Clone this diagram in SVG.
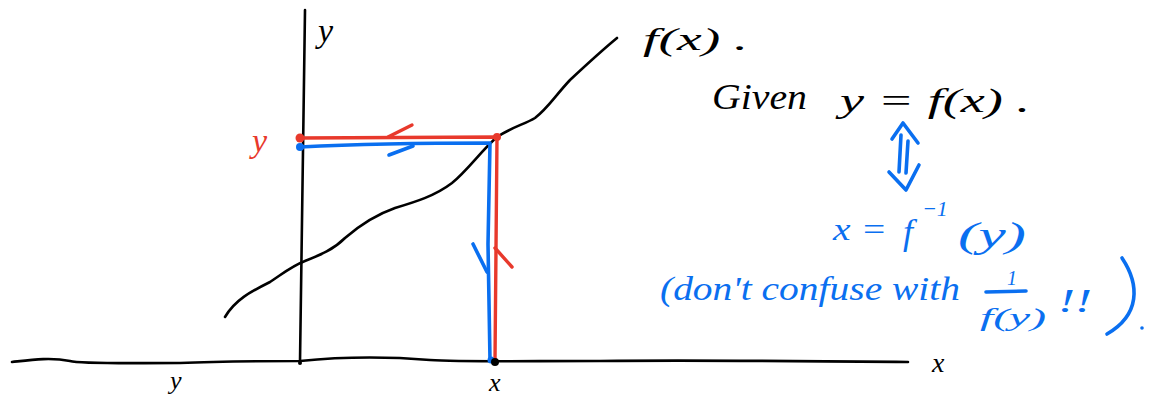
<svg xmlns="http://www.w3.org/2000/svg" width="1150" height="399" viewBox="0 0 1150 399">
<style>
.ink{fill:none;stroke-linecap:round;stroke-linejoin:round}
.k{stroke:#000;stroke-width:2.6}
.r{stroke:#e8392c;stroke-width:3.4}
.b{stroke:#0a6ff0;stroke-width:3.6}
.t{font-family:"Liberation Serif",serif;font-style:italic}
.tk{fill:#000}
.tb{fill:#0a6ff0}
.tr{fill:#e8392c}
</style>
<rect width="1150" height="399" fill="#fff"/>
<g id="axes">
<path class="ink k" d="M12,362 C30,360 50,357 70,361 C80,364 120,363 180,363 C200,362 240,361 300,361 C330,358 380,356 430,360 C460,362 520,361 600,361 C700,360 800,361 908,362"/>
<path class="ink k" d="M305,10 C303,120 301,240 300,362"/>
<circle cx="300" cy="363" r="2" fill="#000"/>
</g>
<g id="curve">
<path class="ink k" d="M225,317 C235,300 250,292 270,282 C285,272 292,266 305,261 C320,255 333,250 345,238 C360,225 375,215 395,208 C415,202 435,196 452,183 C468,170 480,152 497,137 C510,128 525,124 535,118 C548,108 555,96 570,80 C585,66 600,52 617,38"/>
</g>
<g id="red-path">
<path class="ink r" d="M300,138 L497,137 L495,360"/>
<circle cx="300" cy="138" r="4.5" fill="#e8392c"/>
<circle cx="497" cy="137" r="4" fill="#e8392c"/>
<path class="ink r" d="M388,137 L412,125"/>
<path class="ink r" d="M495,248 L512,267"/>
</g>
<g id="blue-path">
<path class="ink b" d="M300,147 C360,144 440,143 490,143 L488,244 L490,360"/>
<circle cx="300" cy="147" r="4" fill="#0a6ff0"/>
<circle cx="491" cy="360" r="3.5" fill="#0a6ff0"/>
<path class="ink b" d="M389,155 L413,146"/>
<path class="ink b" d="M473,244 L487,272"/>
</g>
<circle cx="495" cy="362" r="4" fill="#000"/>
<g id="labels">
<text class="t tk" x="318" y="42" font-size="34">y</text>
<text class="t tr" x="252" y="152" font-size="34">y</text>
<text class="t tk" x="170" y="389" font-size="26">y</text>
<text class="t tk" x="489" y="391" font-size="26">x</text>
<text class="t tk" x="932" y="372" font-size="28">x</text>
<text class="t tk" x="643" y="50" font-size="32" textLength="105" lengthAdjust="spacingAndGlyphs">f(x) .</text>
</g>
<g id="given">
<text class="t tk" x="712" y="109" font-size="36" textLength="95" lengthAdjust="spacingAndGlyphs">Given</text>
<text class="t tk" x="840" y="112" font-size="34" textLength="190" lengthAdjust="spacingAndGlyphs">y = f(x)  .</text>
</g>
<g id="equiv">
<path class="ink b" d="M892,139 L903,123 L918,143"/>
<path class="ink b" d="M901,135 L899,172"/>
<path class="ink b" d="M908,141 L906,173"/>
<path class="ink b" d="M889,172 L906,190 L919,165"/>
</g>
<g id="inverse">
<text class="t tb" x="833" y="240" font-size="32" textLength="54" lengthAdjust="spacingAndGlyphs">x =</text>
<text class="t tb" x="903" y="244" font-size="36">f</text>
<text class="t tb" x="922" y="216" font-size="22">−1</text>
<text class="t tb" x="958" y="247" font-size="36" textLength="68" lengthAdjust="spacingAndGlyphs">(y)</text>
</g>
<g id="note">
<text class="t tb" x="660" y="300" font-size="34" textLength="300" lengthAdjust="spacingAndGlyphs">(don't confuse with</text>
<text class="t tb" x="1007" y="285" font-size="20">1</text>
<path class="ink b" d="M986,292 L1026,291" stroke-width="2.4"/>
<text class="t tb" x="980" y="326" font-size="26" textLength="66" lengthAdjust="spacingAndGlyphs">f(y)</text>
<text class="t tb" x="1058" y="312" font-size="34" textLength="34" lengthAdjust="spacingAndGlyphs">!!</text>
<path class="ink b" d="M1122,258 C1140,285 1140,315 1107,334"/>
<circle cx="1142" cy="328" r="1.8" fill="#0a6ff0"/>
</g>
</svg>
